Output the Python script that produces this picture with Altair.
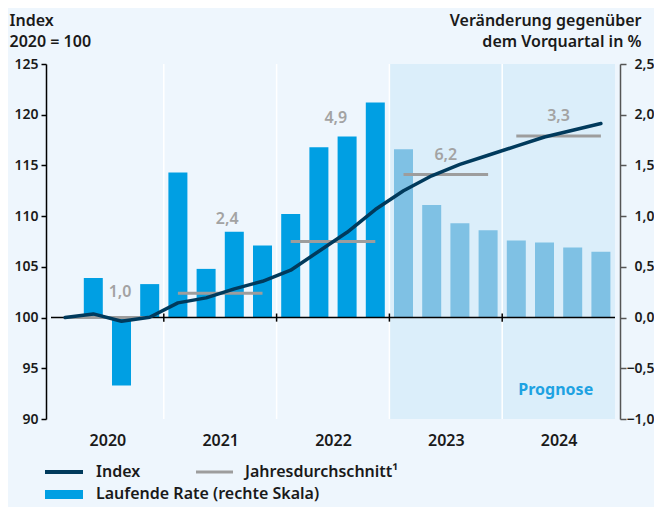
import altair as alt
import pandas as pd

# ---------------- data ----------------
years = [2020, 2021, 2022, 2023, 2024]
index_vals = [100.0, 100.36, 99.64, 100.03, 101.45, 101.94, 102.83, 103.58,
              104.67, 106.54, 108.41, 110.65, 112.5, 113.98, 115.1, 116.0,
              116.9, 117.8, 118.47, 119.13]
rate_vals = [None, 0.39, -0.67, 0.33, 1.43, 0.48, 0.845, 0.71,
             1.02, 1.68, 1.785, 2.12, 1.66, 1.11, 0.93, 0.86,
             0.76, 0.74, 0.69, 0.65]
avg_levels = [100.0, 102.4, 107.5, 114.1, 117.9]
avg_labels = ["1,0", "2,4", "4,9", "6,2", "3,3"]
avg_label_y = [102.5, 109.7, 119.7, 116.0, 119.9]
avg_label_x = [2.45, 6.25, 10.1, 14.0, 18.0]
forecast_first_year = 2023

left_ticks = [90, 95, 100, 105, 110, 115, 120, 125]
right_ticks = [-1.0, -0.5, 0.0, 0.5, 1.0, 1.5, 2.0, 2.5]

legend_items = ["Index", "Jahresdurchschnitt\u00b9", "Laufende Rate (rechte Skala)"]

# ---------------- frames ----------------
n = len(index_vals)
fq = (forecast_first_year - years[0]) * 4
qdf = pd.DataFrame({
    "pos": [i + 0.5 for i in range(n)],
    "index": index_vals,
    "rate": rate_vals,
    "phase": ["Ist" if i < fq else "Prognose" for i in range(n)],
})
ydf = pd.DataFrame({
    "year": years,
    "start": [i * 4 + 0.5 for i in range(len(years))],
    "end": [i * 4 + 3.5 for i in range(len(years))],
    "avg": avg_levels,
    "label": avg_labels,
    "ly": avg_label_y,
    "lx": avg_label_x,
})
sep_df = pd.DataFrame({"x": [i * 4 for i in range(1, len(years))]})
band_df = pd.DataFrame({"x0": [fq], "x1": [n]})
one = pd.DataFrame({"a": [0]})

W, H = 574, 355
FONT = "Noto Sans"
DARK = "#1a1a1a"

xscale = alt.Scale(domain=[0, n], nice=False, zero=False)
xaxis = alt.Axis(values=[i * 4 + 2 for i in range(len(years))],
                 labelExpr="toString(2020 + floor(datum.value / 4))",
                 domain=False, ticks=False, grid=False, title=None,
                 labelFontSize=16, labelFontWeight=600, labelColor=DARK,
                 labelPadding=13, labelFont=FONT)

def X(field):
    return alt.X(field, type="quantitative", scale=xscale, axis=xaxis)

lscale = alt.Scale(domain=[90, 125], nice=False, zero=False)
rscale = alt.Scale(domain=[-1.0, 2.5], nice=False, zero=False)

laxis = alt.Axis(orient="left", values=left_ticks, format="d", grid=False,
                 domainColor="#000", domainWidth=1.5, tickColor="#000", tickWidth=1.5,
                 tickSize=5, labelPadding=3, labelFontSize=14, labelFontWeight=600,
                 labelColor=DARK, labelFont=FONT,
                 title=["Index", "2020 = 100"], titleAngle=0, titleAlign="left",
                 titleBaseline="alphabetic", titleX=-37, titleY=-39,
                 titleFontSize=16, titleFontWeight=600, titleColor=DARK,
                 titleFont=FONT, titleLineHeight=21)
raxis = alt.Axis(orient="right", values=right_ticks,
                 labelExpr="replace(format(datum.value, '.1f'), '.', ',')",
                 grid=False, domainColor="#555", domainWidth=1.5, tickColor="#555",
                 tickWidth=1.5, tickSize=6, labelAlign="right", labelPadding=28,
                 labelFontSize=14, labelFontWeight=600, labelColor=DARK, labelFont=FONT,
                 title=["Ver\u00e4nderung gegen\u00fcber", "dem Vorquartal in %"],
                 titleAngle=0, titleAlign="right", titleBaseline="alphabetic",
                 titleX=21, titleY=-39, titleFontSize=16, titleFontWeight=600,
                 titleColor=DARK, titleFont=FONT, titleLineHeight=21)

# ---------------- right-scale group (band, separators, bars) ----------------
band = alt.Chart(band_df).mark_rect(color="#dbeefa").encode(
    x=X("x0"), x2="x1",
    y=alt.Y(datum=-1.0, type="quantitative", scale=rscale, axis=raxis),
    y2=alt.datum(2.5),
)
seps = alt.Chart(sep_df).mark_rule(color="white", strokeWidth=1.5).encode(
    x=X("x"),
    y=alt.Y(datum=-1.0, type="quantitative", scale=rscale, axis=raxis),
    y2=alt.datum(2.5),
)
bars = alt.Chart(qdf).transform_filter("isValid(datum.rate)").mark_bar(size=19).encode(
    x=X("pos"),
    y=alt.Y("rate:Q", scale=rscale, axis=raxis),
    color=alt.Color("phase:N", scale=alt.Scale(domain=["Ist", "Prognose"],
                                               range=["#009fe3", "#7fc1e4"]), legend=None),
)
right_group = alt.layer(band, seps, bars)

# ---------------- left-scale group ----------------
zero = alt.Chart(one).mark_rule(color="#000", strokeWidth=1.5).encode(
    x=alt.X(datum=0, type="quantitative", scale=xscale, axis=xaxis),
    x2=alt.datum(n),
    y=alt.Y(datum=100, type="quantitative", scale=lscale, axis=laxis),
)
zticks = alt.Chart(sep_df).mark_rule(color="#000", strokeWidth=1.5).encode(
    x=X("x"),
    y=alt.Y(datum=99.6, type="quantitative", scale=lscale, axis=laxis),
    y2=alt.datum(100.4),
)
avg = alt.Chart(ydf).mark_rule(color="#9d9d9d", strokeWidth=3).encode(
    x=X("start"), x2="end",
    y=alt.Y("avg:Q", scale=lscale, axis=laxis),
)
line = alt.Chart(qdf).mark_line(color="#003a5c", strokeWidth=3.5, strokeCap="round",
                                strokeJoin="round").encode(
    x=X("pos"),
    y=alt.Y("index:Q", scale=lscale, axis=laxis),
)
labels = alt.Chart(ydf).mark_text(color="#a3a3a3", fontSize=16, fontWeight=600,
                                  font=FONT, baseline="middle").encode(
    x=X("lx"),
    y=alt.Y("ly:Q", scale=lscale, axis=laxis),
    text="label:N",
)
prog = alt.Chart(one).mark_text(text="Prognose", color="#1ea2e2", fontSize=16,
                                fontWeight=700, font=FONT, baseline="middle").encode(
    x=alt.X(datum=17.9, type="quantitative", scale=xscale, axis=xaxis),
    y=alt.Y(datum=92.9, type="quantitative", scale=lscale, axis=laxis),
)

# manual legend below the plot (pixel positions relative to plot area)
leg_line = alt.Chart(one).mark_rule(color="#003a5c", strokeWidth=4).encode(
    x=alt.value(-1), x2=alt.value(37), y=alt.value(408))
leg_avg = alt.Chart(one).mark_rule(color="#9d9d9d", strokeWidth=3).encode(
    x=alt.value(150), x2=alt.value(187), y=alt.value(408))
leg_bar = alt.Chart(one).mark_rect(color="#009fe3").encode(
    x=alt.value(-1), x2=alt.value(37), y=alt.value(426), y2=alt.value(435))
def leg_text(txt, x, y):
    return alt.Chart(one).mark_text(text=txt, align="left", baseline="middle",
                                    fontSize=16, fontWeight=600, font=FONT,
                                    color=DARK).encode(x=alt.value(x), y=alt.value(y))

left_group = alt.layer(zero, zticks, avg, line, labels, prog,
                       leg_line, leg_avg, leg_bar,
                       leg_text(legend_items[0], 50, 408),
                       leg_text(legend_items[1], 199, 408),
                       leg_text(legend_items[2], 50, 430))

chart = alt.layer(right_group, left_group).resolve_scale(y="independent").properties(
    width=W, height=H, background="#eef6fd",
    autosize=alt.AutoSizeParams(type="none"),
    padding={"left": 38, "top": 56, "right": 34, "bottom": 88},
).configure_view(stroke=None)

chart.save("out.html", embed_options={"renderer": "svg", "actions": False})
